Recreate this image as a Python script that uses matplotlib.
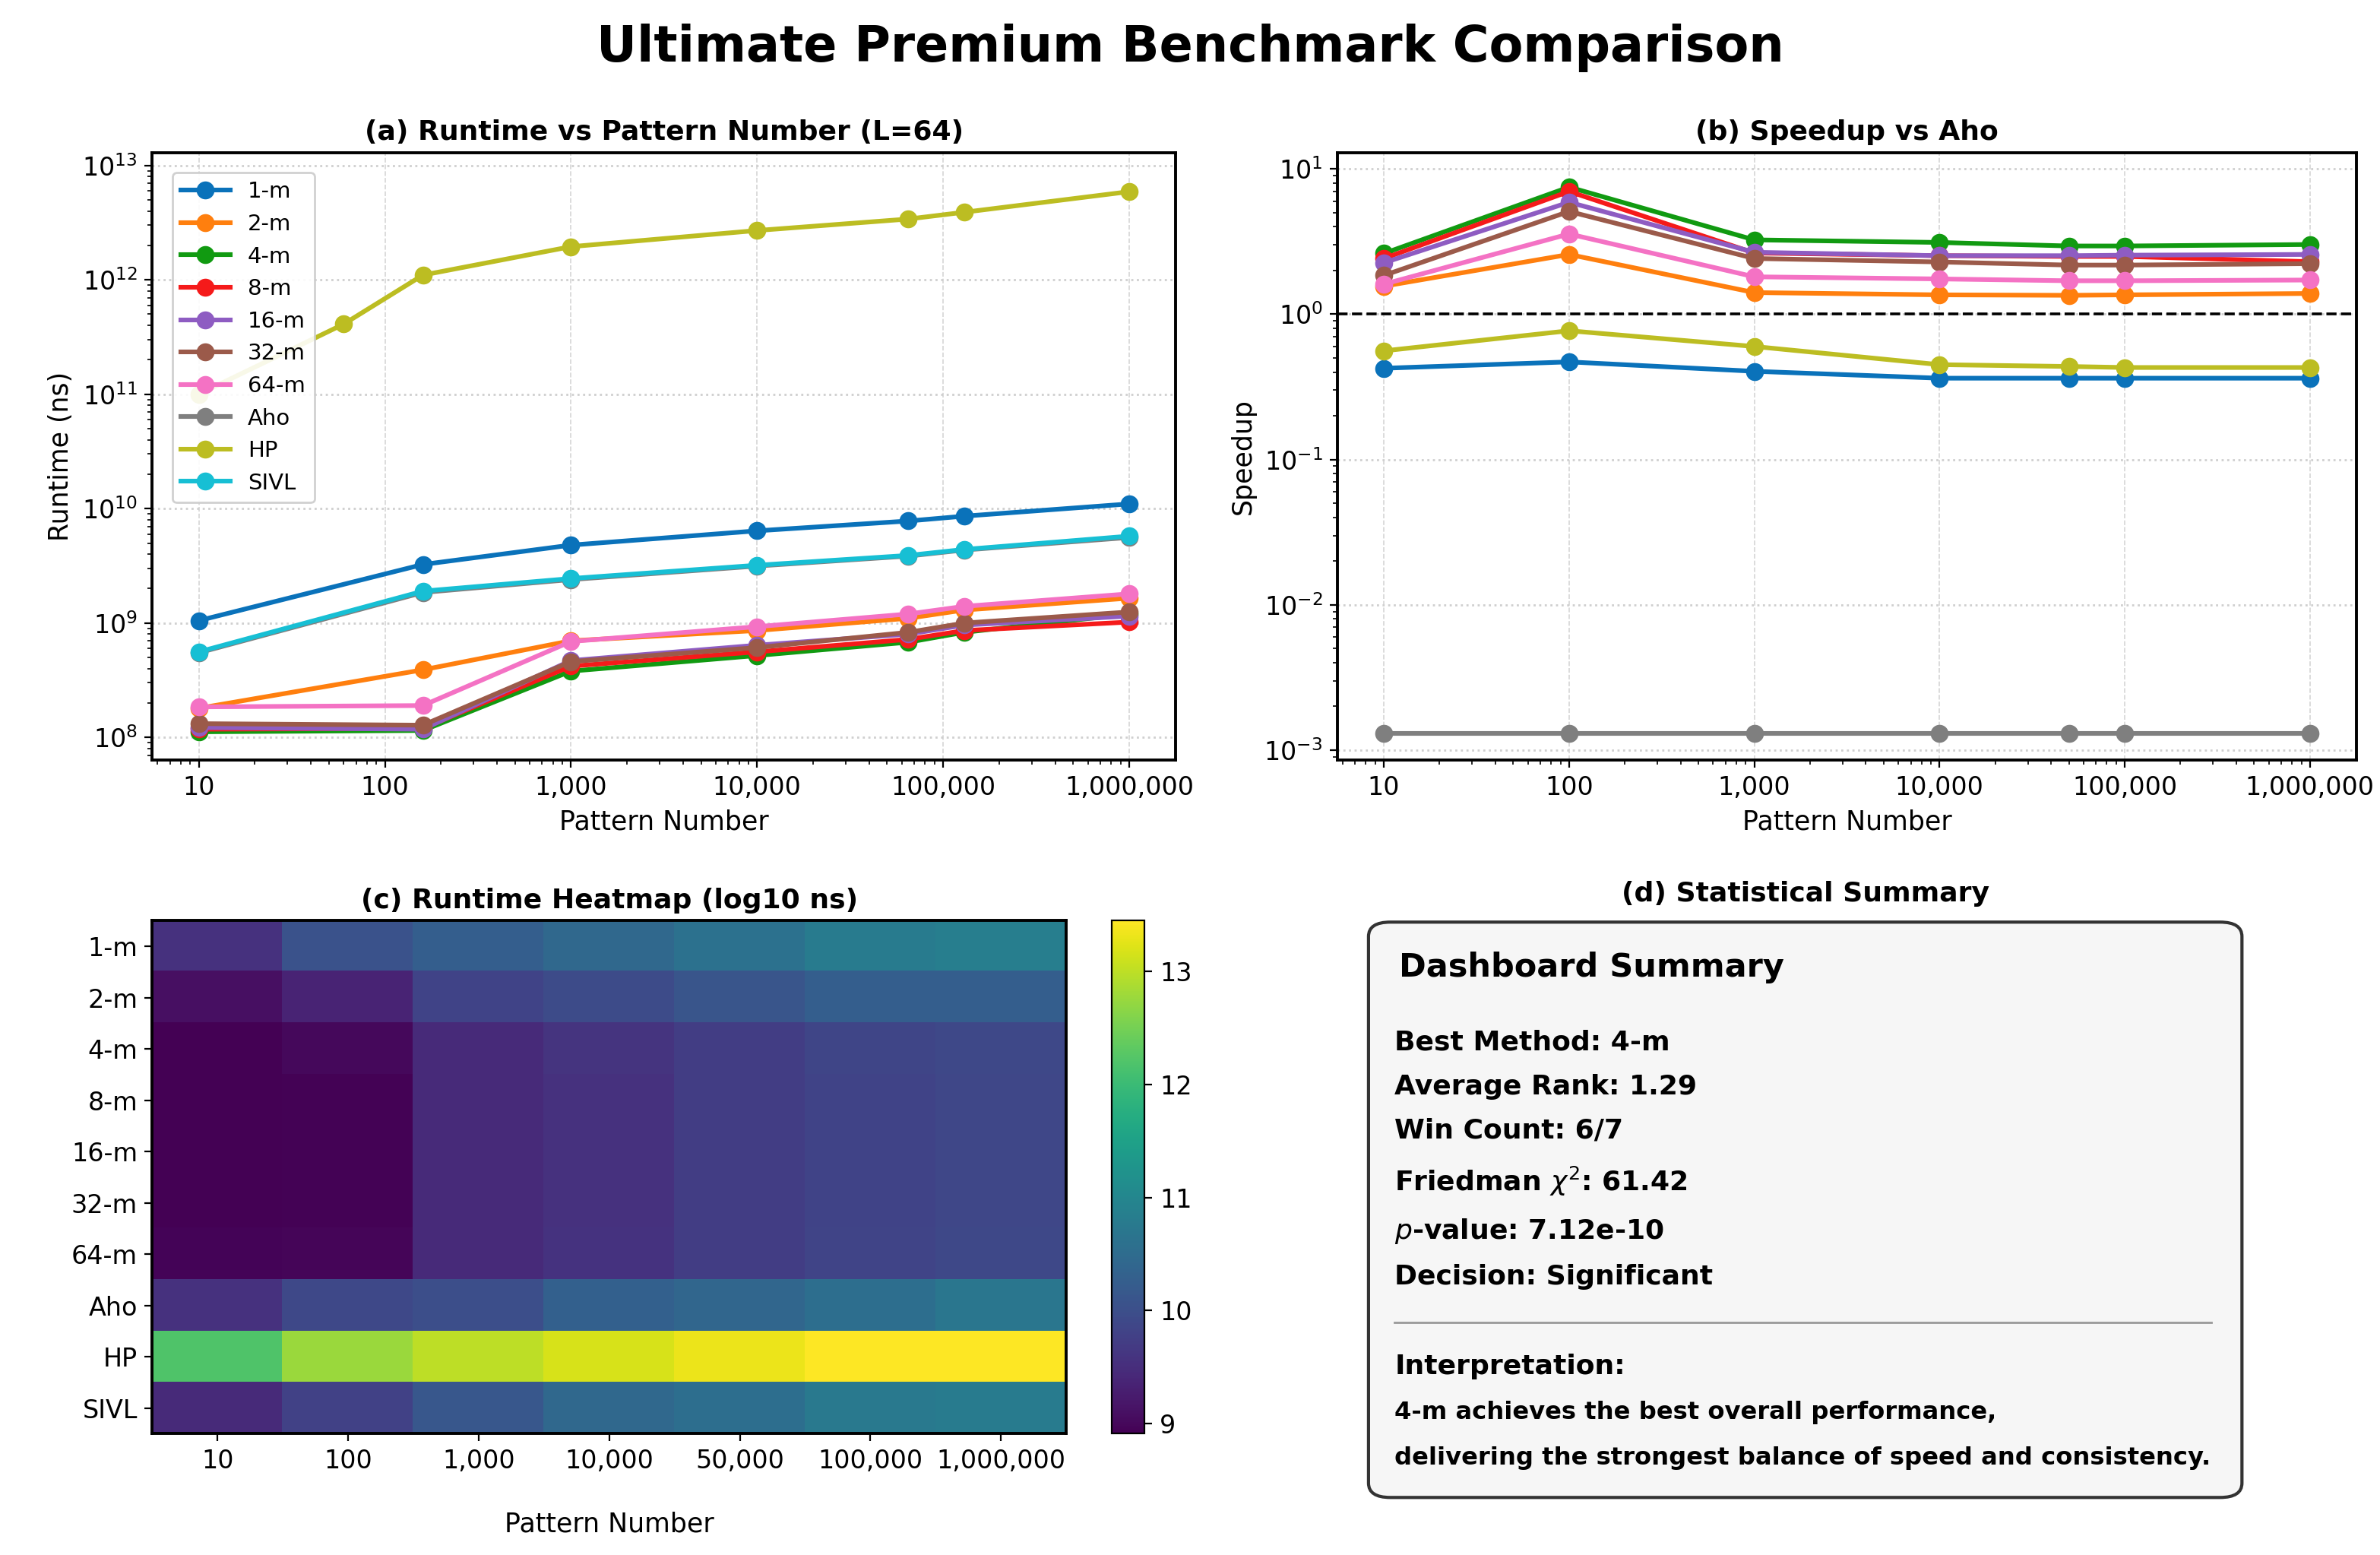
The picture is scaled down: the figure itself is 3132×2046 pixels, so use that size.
import numpy as np
import matplotlib
matplotlib.use("Agg")
import matplotlib.pyplot as plt
from matplotlib.ticker import FuncFormatter
from matplotlib.patches import FancyBboxPatch

# --- dados ---
metodos = ["1-m", "2-m", "4-m", "8-m", "16-m", "32-m", "64-m", "Aho", "HP", "SIVL"]
cores = ["#0a72ba", "#ff7f0e", "#119a11", "#f51a1a", "#8e5cc2", "#9b5a4a",
         "#f472c4", "#7f7f7f", "#bcbd22", "#17bfd4"]

# (a) runtime (ns)
x_runtime = [10, 160, 1000, 10000, 65000, 130000, 1000000]
x_runtime_hp = [10, 60, 160, 1000, 10000, 65000, 130000, 1000000]
runtime = {
    "1-m": [1.05e9, 3.25e9, 4.8e9, 6.4e9, 7.8e9, 8.6e9, 1.1e10],
    "2-m": [1.8e8, 3.9e8, 7.0e8, 8.6e8, 1.1e9, 1.3e9, 1.65e9],
    "4-m": [1.12e8, 1.15e8, 3.8e8, 5.2e8, 6.8e8, 8.3e8, 1.2e9],
    "8-m": [1.18e8, 1.2e8, 4.2e8, 5.6e8, 7.2e8, 8.6e8, 1.02e9],
    "16-m": [1.22e8, 1.18e8, 4.7e8, 6.4e8, 8.0e8, 9.6e8, 1.15e9],
    "32-m": [1.32e8, 1.28e8, 4.6e8, 6.1e8, 8.3e8, 1.0e9, 1.25e9],
    "64-m": [1.85e8, 1.9e8, 6.9e8, 9.3e8, 1.2e9, 1.4e9, 1.8e9],
    "Aho": [5.5e8, 1.85e9, 2.4e9, 3.15e9, 3.85e9, 4.35e9, 5.6e9],
    "HP": [1.0e11, 4.1e11, 1.1e12, 1.95e12, 2.7e12, 3.4e12, 3.9e12, 5.9e12],
    "SIVL": [5.6e8, 1.9e9, 2.45e9, 3.2e9, 3.9e9, 4.4e9, 5.75e9],
}

# (b) speedup vs Aho
x_speedup = [10, 100, 1000, 10000, 50000, 100000, 1000000]
speedup = {
    "1-m": [0.425, 0.47, 0.405, 0.363, 0.363, 0.363, 0.363],
    "2-m": [1.56, 2.58, 1.41, 1.36, 1.35, 1.36, 1.39],
    "4-m": [2.62, 7.5, 3.25, 3.12, 2.95, 2.95, 3.02],
    "8-m": [2.42, 7.0, 2.64, 2.53, 2.5, 2.5, 2.3],
    "16-m": [2.26, 5.9, 2.67, 2.53, 2.53, 2.55, 2.58],
    "32-m": [1.85, 5.1, 2.42, 2.29, 2.18, 2.18, 2.23],
    "64-m": [1.61, 3.57, 1.81, 1.75, 1.7, 1.7, 1.72],
    "Aho": [1.3e-3, 1.3e-3, 1.3e-3, 1.3e-3, 1.3e-3, 1.3e-3, 1.3e-3],
    "HP": [0.56, 0.77, 0.6, 0.45, 0.437, 0.43, 0.43],
}

# (c) heatmap log10(ns)
heat_cols = ["10", "100", "1,000", "10,000", "50,000", "100,000", "1,000,000"]
heat = np.array([
    [9.55, 10.05, 10.27, 10.45, 10.6, 10.8, 10.85],
    [9.1, 9.36, 9.82, 9.95, 10.1, 10.27, 10.27],
    [8.92, 9.0, 9.45, 9.6, 9.73, 9.86, 9.9],
    [8.91, 8.93, 9.45, 9.55, 9.73, 9.82, 9.88],
    [8.91, 8.93, 9.45, 9.55, 9.73, 9.82, 9.88],
    [8.91, 8.93, 9.45, 9.55, 9.73, 9.82, 9.88],
    [8.95, 8.98, 9.45, 9.58, 9.73, 9.84, 9.9],
    [9.55, 9.9, 10.0, 10.3, 10.4, 10.55, 10.7],
    [12.2, 12.77, 13.0, 13.18, 13.32, 13.45, 13.45],
    [9.45, 9.78, 10.15, 10.45, 10.55, 10.75, 10.8],
])

resumo = [
    "Best Method: 4-m",
    "Average Rank: 1.29",
    "Win Count: 6/7",
    r"Friedman $\chi^2$: 61.42",
    r"$p$-value: 7.12e-10",
    "Decision: Significant",
]
interpretacao = [
    "4-m achieves the best overall performance,",
    "delivering the strongest balance of speed and consistency.",
]

fmt_virgula = FuncFormatter(lambda v, p: f"{int(v):,}")

fig = plt.figure(figsize=(15.66, 10.23), dpi=200)
fig.suptitle("Ultimate Premium Benchmark Comparison", fontsize=23.5,
             fontweight="bold", y=0.985)

ax_a = fig.add_axes([0.064, 0.511, 0.430, 0.391])
ax_b = fig.add_axes([0.562, 0.511, 0.428, 0.391])
ax_c = fig.add_axes([0.064, 0.078, 0.384, 0.330])
ax_cb = fig.add_axes([0.467, 0.078, 0.014, 0.330])
ax_d = fig.add_axes([0.575, 0.037, 0.367, 0.370])

# --- (a) ---
for nome, cor in zip(metodos, cores):
    xs = x_runtime_hp if nome == "HP" else x_runtime
    ax_a.plot(xs, runtime[nome], "-o", color=cor, lw=2.2, ms=7.5, label=nome)
ax_a.set_xscale("log")
ax_a.set_yscale("log")
ax_a.set_ylim(6.3e7, 1.3e13)
ax_a.xaxis.set_major_formatter(fmt_virgula)
ax_a.set_title("(a) Runtime vs Pattern Number (L=64)", fontsize=13,
               fontweight="bold")
ax_a.set_xlabel("Pattern Number", fontsize=12.5)
ax_a.set_ylabel("Runtime (ns)", fontsize=12.5)
ax_a.legend(loc="upper left", fontsize=10.5, framealpha=0.9,
            borderaxespad=0.9, handlelength=2.2)

# --- (b) ---
for nome, cor in zip(metodos, cores):
    if nome in speedup:
        ax_b.plot(x_speedup, speedup[nome], "-o", color=cor, lw=2.2, ms=7.5)
ax_b.axhline(1.0, color="black", ls="--", lw=1.3)
ax_b.set_xscale("log")
ax_b.set_yscale("log")
ax_b.set_ylim(8.5e-4, 13)
ax_b.xaxis.set_major_formatter(fmt_virgula)
ax_b.set_title("(b) Speedup vs Aho", fontsize=13, fontweight="bold")
ax_b.set_xlabel("Pattern Number", fontsize=12.5)
ax_b.set_ylabel("Speedup", fontsize=12.5)

for ax in (ax_a, ax_b):
    ax.grid(axis="x", which="major", ls="--", lw=0.6, color="#d5d5d5")
    ax.grid(axis="y", which="major", ls=":", lw=1.0, color="#cfcfcf")
    ax.tick_params(labelsize=12)
    for s in ax.spines.values():
        s.set_linewidth(1.4)

# --- (c) ---
im = ax_c.imshow(heat, aspect="auto", cmap="viridis", vmin=8.91, vmax=13.45)
ax_c.set_xticks(range(len(heat_cols)))
ax_c.set_xticklabels(heat_cols, fontsize=12)
ax_c.set_yticks(range(len(metodos)))
ax_c.set_yticklabels(metodos, fontsize=12)
ax_c.set_xlabel("Pattern Number", fontsize=12.5, labelpad=18)
ax_c.set_title("(c) Runtime Heatmap (log10 ns)", fontsize=13, fontweight="bold")
for s in ax_c.spines.values():
    s.set_linewidth(1.4)
cb = fig.colorbar(im, cax=ax_cb, ticks=[9, 10, 11, 12, 13])
cb.ax.tick_params(labelsize=12)

# --- (d) ---
ax_d.set_xlim(0, 1)
ax_d.set_ylim(0, 1)
ax_d.axis("off")
ax_d.set_title("(d) Statistical Summary", fontsize=13, fontweight="bold", pad=10)
caixa = FancyBboxPatch((0, 0), 1, 1, boxstyle="round,pad=0,rounding_size=0.025",
                       transform=ax_d.transAxes, facecolor="#f6f6f6",
                       edgecolor="#333333", lw=1.5, clip_on=False)
ax_d.add_patch(caixa)
ax_d.text(0.035, 0.921, "Dashboard Summary", fontsize=15.5, fontweight="bold",
          va="center", ha="left")
ys = [0.791, 0.714, 0.638, 0.55, 0.463, 0.384]
for y, linha in zip(ys, resumo):
    ax_d.text(0.03, y, linha, fontsize=13, fontweight="bold", va="center", ha="left")
ax_d.plot([0.03, 0.965], [0.304, 0.304], color="#999999", lw=1)
ax_d.text(0.03, 0.228, "Interpretation:", fontsize=13, fontweight="bold",
          va="center", ha="left")
for y, linha in zip([0.148, 0.069], interpretacao):
    ax_d.text(0.03, y, linha, fontsize=11.6, fontweight="bold", va="center", ha="left")

fig.savefig("out.png", dpi=200)
